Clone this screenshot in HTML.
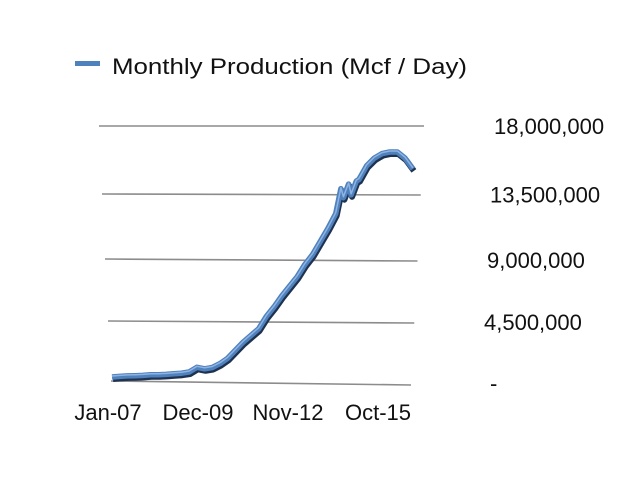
<!DOCTYPE html>
<html><head><meta charset="utf-8"><style>
html,body{margin:0;padding:0;background:#fff;}
svg{display:block;font-family:"Liberation Sans",sans-serif;}
</style></head><body>
<svg id="chart" width="640" height="481" viewBox="0 0 640 481">
<rect x="75" y="61" width="25" height="5" fill="#4f81bd"/>
<text x="112" y="74" font-size="22" fill="#111" textLength="355" lengthAdjust="spacingAndGlyphs">Monthly Production (Mcf / Day)</text>
<g id="grid"></g>
<g id="ylabels"></g>
<g id="xlabels"></g>
<g id="series"></g>
</svg>
<script>
const months = [0,3,6,9,12,15,18,21,24,27,30,33,36,39,42,45,48,51,54,57,60,63,66,69,72,75,78,81,84,87,89,90,92,93,95,96,99,102,105,108,111,114,117];
const values = [0.3,0.35,0.4,0.42,0.45,0.5,0.52,0.55,0.6,0.65,0.75,1.1,1.0,1.1,1.4,1.8,2.4,3.0,3.5,4.0,4.9,5.6,6.4,7.1,7.8,8.7,9.4,10.3,11.2,12.2,13.9,13.3,14.2,13.5,14.4,14.5,15.4,15.9,16.2,16.3,16.3,15.9,15.2];
const yTicks = [0,4.5,9,13.5,18];
const yTickLabels = ["-","4,500,000","9,000,000","13,500,000","18,000,000"];
const xTickMonths = [0,35,70,105];
const xTickLabels = ["Jan-07","Dec-09","Nov-12","Oct-15"];
const NS="http://www.w3.org/2000/svg";
const maxM=119, maxV=18;
// perspective frame: gridline y at left edge and right edge for each tick level
const leftY=[381,321,259,194,126], rightY=[385,323,261,195,126];
function xPos(m){return 112+m/maxM*306;}
function yPos(x,v){
  const f=Math.max(0,Math.min(1,(x-111)/300));
  const s=v/4.5; let i=Math.min(3,Math.max(0,Math.floor(s))); const r=s-i;
  const a=leftY[i]+(rightY[i]-leftY[i])*f, b=leftY[i+1]+(rightY[i+1]-leftY[i+1])*f;
  return a+(b-a)*r;
}
function mk(tag,attrs,parent){const e=document.createElementNS(NS,tag);for(const k in attrs)e.setAttribute(k,attrs[k]);document.getElementById(parent).appendChild(e);return e;}
const lblX=[490,484,487,490,494];
yTicks.forEach((t,i)=>{
  const f=t/maxV;
  const x1=111-12*f, x2=411+13*f;
  const y1=yPos(111,t), y2=yPos(411,t);
  const l=mk('line',{x1:x1,y1:y1,x2:x2,y2:y2,stroke:'#8c8c8c','stroke-width':1.6},'grid');
  
  
  const tx=mk('text',{x:lblX[i],y:(y1+y2)/2+8,'font-size':22,fill:'#111'},'ylabels');
  tx.textContent=yTickLabels[i];
  
  
});
xTickMonths.forEach((m,i)=>{
  const tx=mk('text',{x:xPos(m)-4,y:420,'font-size':22,fill:'#111','text-anchor':'middle'},'xlabels');
  tx.textContent=xTickLabels[i];
  
  
});
const pts=months.map((m,i)=>{const x=xPos(m);return [x,yPos(x,values[i])];});
const d='M'+pts.map(p=>p[0].toFixed(1)+','+p[1].toFixed(1)).join(' L');
const sh=mk('path',{d:d,fill:'none',stroke:'#1f3350','stroke-width':6,'stroke-linejoin':'round',transform:'translate(1,2)'},'series');


const ln=mk('path',{d:d,fill:'none',stroke:'#4f81bd','stroke-width':5.5,'stroke-linejoin':'round'},'series');


const hl=mk('path',{d:d,fill:'none',stroke:'#8fb4e3','stroke-width':1.5,'stroke-linejoin':'round',transform:'translate(0,-1)'},'series');


</script>
</body></html>
